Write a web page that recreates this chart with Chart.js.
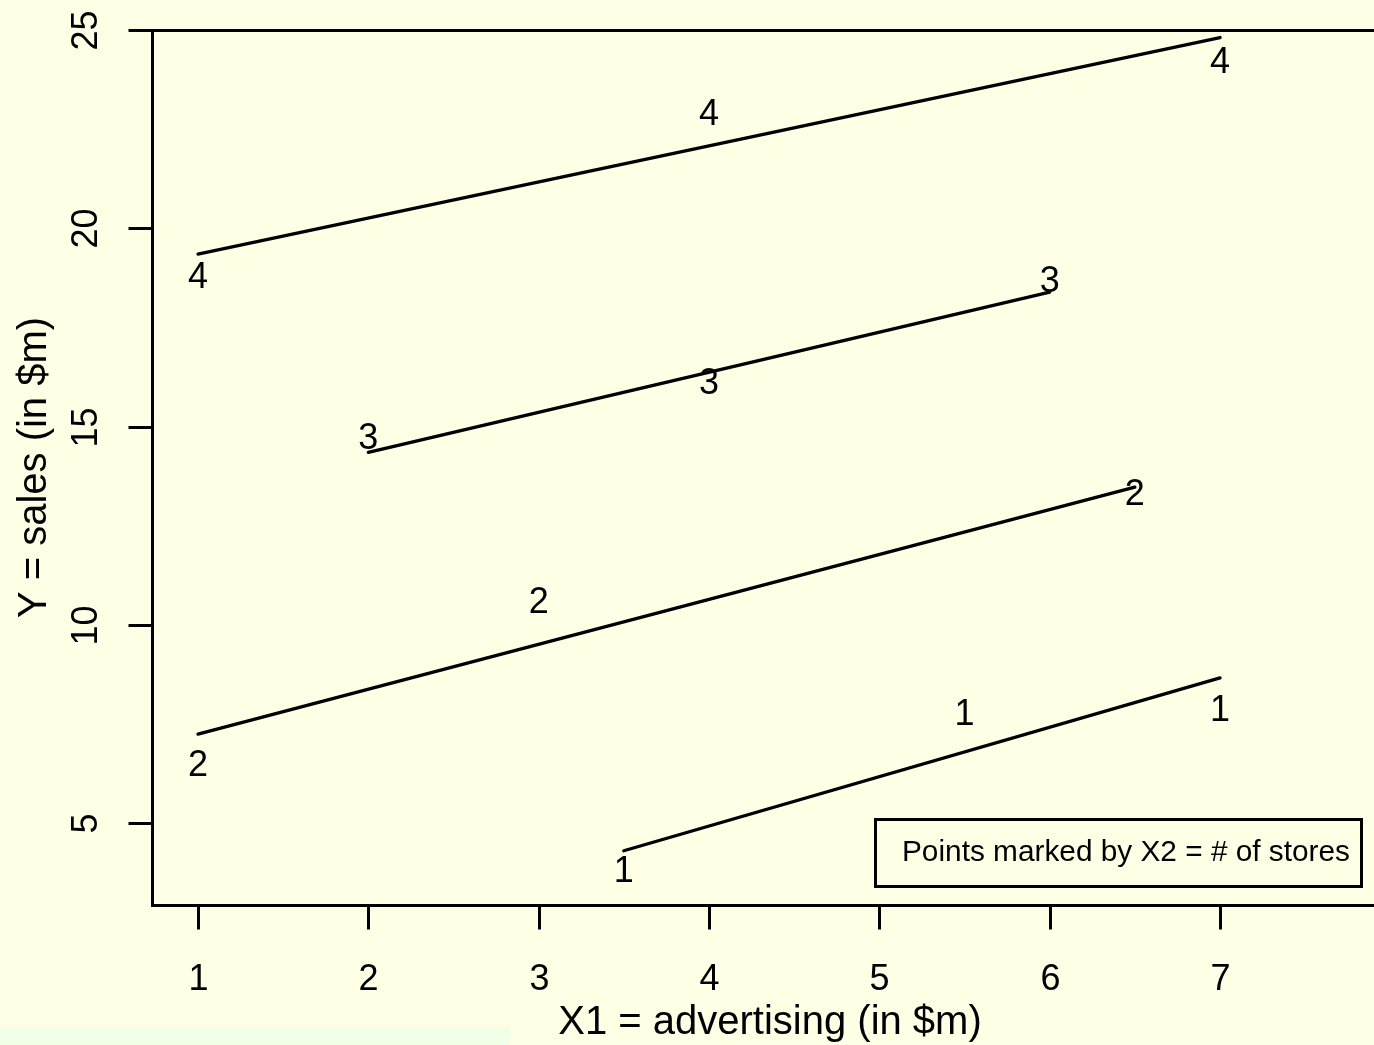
<!DOCTYPE html>
<html><head><meta charset="utf-8">
<script src="https://cdn.jsdelivr.net/npm/chart.js@4/dist/chart.umd.min.js"></script>
<style>
html,body{margin:0;padding:0;background:#FFFFE6;overflow:hidden}
#wrap{position:relative;width:1374px;height:1045px}
#green{position:absolute;left:0;top:1027px;width:510px;height:18px;background:#F0FFE8}
canvas{position:absolute;left:0;top:0}
</style></head><body>
<div id="wrap"><div id="green"></div><canvas id="c" width="1374" height="1045"></canvas></div>
<script>
// ---- data ----
const xTickValues = [1, 2, 3, 4, 5, 6, 7];
const xTickLabels = ["1", "2", "3", "4", "5", "6", "7"];
const yTickValues = [5, 10, 15, 20, 25];
const yTickLabels = ["5", "10", "15", "20", "25"];
const storeGroups = ["1", "2", "3", "4"];
// observed points (X1 advertising, Y sales), marked by X2 = # of stores
const store1X = [3.5, 5.5, 7];   const store1Y = [3.80, 7.75, 7.85];
const store2X = [1, 3, 6.5];     const store2Y = [6.46, 10.57, 13.30];
const store3X = [2, 4, 6];       const store3Y = [14.71, 16.10, 18.67];
const store4X = [1, 4, 7];       const store4Y = [18.77, 22.88, 24.19];
// fitted lines per group (endpoints)
const fit1X = [3.5, 7];  const fit1Y = [4.30, 8.66];
const fit2X = [1, 6.5];  const fit2Y = [7.24, 13.47];
const fit3X = [2, 6];    const fit3Y = [14.35, 18.39];
const fit4X = [1, 7];    const fit4Y = [19.35, 24.81];
const xTitle = "X1 = advertising (in $m)";
const yTitle = "Y = sales (in $m)";
const legendText = "Points marked by X2 = # of stores";

const pts = (xs, ys) => xs.map((x, i) => ({x: x, y: ys[i]}));
const pointSets = [[store1X, store1Y], [store2X, store2Y], [store3X, store3Y], [store4X, store4Y]];
const fitSets = [[fit1X, fit1Y], [fit2X, fit2Y], [fit3X, fit3Y], [fit4X, fit4Y]];

const datasets = [];
fitSets.forEach((f, i) => datasets.push({
  kind: 'fit', label: 'fit ' + storeGroups[i], data: pts(f[0], f[1]), showLine: true,
  borderColor: '#000', borderWidth: 3.3, borderCapStyle: 'round', pointRadius: 0, pointHoverRadius: 0
}));
pointSets.forEach((p, i) => datasets.push({
  kind: 'pts', label: storeGroups[i], data: pts(p[0], p[1]), showLine: false,
  pointRadius: 0, pointHoverRadius: 0
}));

const FONT = '"Liberation Sans", Arial, sans-serif';

const rPlot = {
  id: 'rPlot',
  afterDatasetsDraw(chart) {
    const ctx = chart.ctx, a = chart.chartArea;
    const xs = chart.scales.x, ys = chart.scales.y;
    const L = a.left + 0.5, T = a.top + 0.5, B = a.bottom + 0.5;
    ctx.save();
    ctx.strokeStyle = '#000'; ctx.fillStyle = '#000'; ctx.lineWidth = 3; ctx.lineCap = 'butt';
    // box (left, bottom, top)
    ctx.beginPath();
    ctx.moveTo(a.right + 5, T); ctx.lineTo(L, T); ctx.lineTo(L, B); ctx.lineTo(a.right + 5, B);
    ctx.stroke();
    // x ticks
    ctx.font = '36px ' + FONT; ctx.textAlign = 'center'; ctx.textBaseline = 'alphabetic';
    xTickValues.forEach((v, i) => {
      const px = Math.round(xs.getPixelForValue(v)) + 0.5;
      ctx.beginPath(); ctx.moveTo(px, B); ctx.lineTo(px, B + 24); ctx.stroke();
      ctx.fillText(xTickLabels[i], px, 990);
    });
    // y ticks
    yTickValues.forEach((v, i) => {
      const py = Math.round(ys.getPixelForValue(v)) + 0.5;
      ctx.beginPath(); ctx.moveTo(L, py); ctx.lineTo(L - 24, py); ctx.stroke();
      ctx.save(); ctx.translate(97, py); ctx.rotate(-Math.PI / 2);
      ctx.fillText(yTickLabels[i], 0, 0); ctx.restore();
    });
    // titles
    ctx.font = '40px ' + FONT;
    ctx.fillText(xTitle, 770, 1034);
    ctx.save(); ctx.translate(46, (a.top + a.bottom) / 2); ctx.rotate(-Math.PI / 2);
    ctx.fillText(yTitle, 0, 0); ctx.restore();
    // point labels
    ctx.font = '36px ' + FONT; ctx.textBaseline = 'middle';
    chart.data.datasets.forEach((ds, di) => {
      if (ds.kind !== 'pts') return;
      chart.getDatasetMeta(di).data.forEach(el => ctx.fillText(ds.label, el.x, el.y + 1));
    });
    // legend box
    ctx.lineWidth = 3;
    ctx.strokeRect(875.5, 819.5, 486, 67);
    ctx.font = '29.8px ' + FONT; ctx.textAlign = 'left'; ctx.textBaseline = 'middle';
    ctx.fillText(legendText, 902, 853);
    ctx.restore();
  }
};

new Chart(document.getElementById('c'), {
  type: 'scatter',
  data: { datasets: datasets },
  options: {
    responsive: false, animation: false, devicePixelRatio: 1,
    layout: { padding: { left: 152, top: 30, right: 0, bottom: 140 } },
    plugins: { legend: { display: false }, tooltip: { enabled: false } },
    scales: {
      x: { type: 'linear', min: 0.73, max: 7.904, display: false },
      y: { type: 'linear', min: 2.932, max: 25, display: false }
    }
  },
  plugins: [rPlot]
});
</script>
</body></html>
